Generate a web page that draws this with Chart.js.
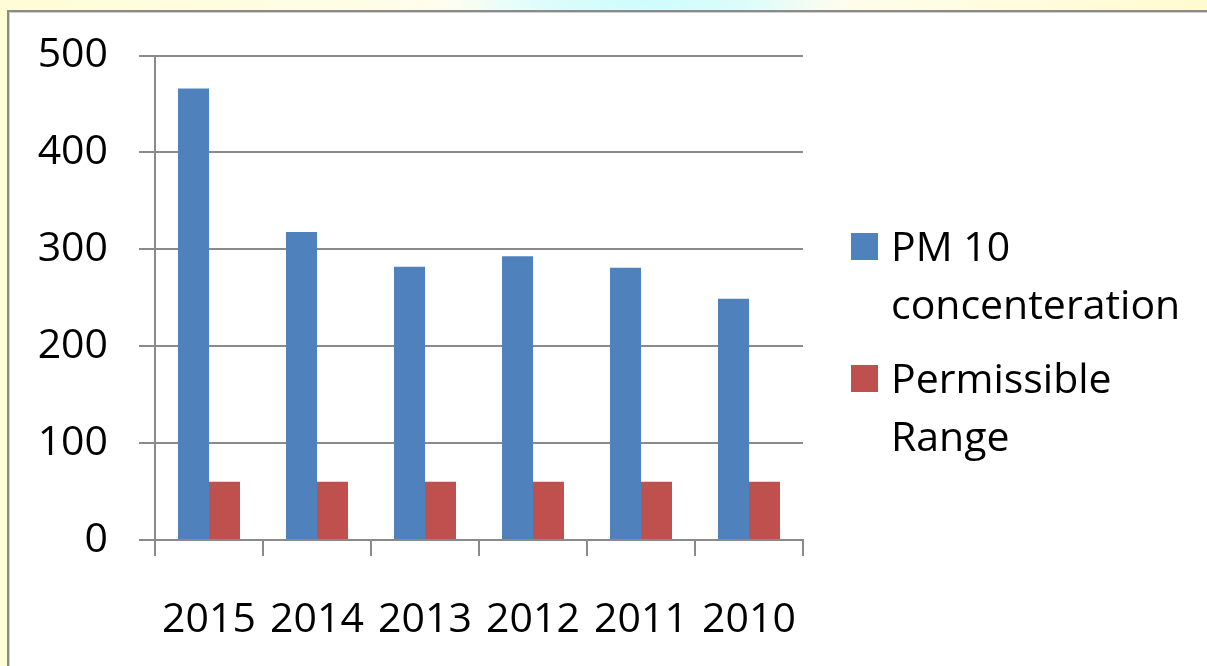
<!DOCTYPE html>
<html>
<head>
<meta charset="utf-8">
<script src="https://cdn.jsdelivr.net/npm/chart.js@4"></script>
<style>
  html, body { margin:0; padding:0; }
  body {
    width:1207px; height:666px; overflow:hidden; position:relative;
    background:
      radial-gradient(ellipse 200px 40px at 645px 0px, rgba(205,252,252,1) 0%, rgba(215,252,252,0.9) 50%, rgba(255,255,255,0) 100%),
      linear-gradient(90deg, #fefdd6 0%, #fffde6 30%, #ffffff 50%, #fffde6 75%, #fffbd0 100%);
  }
  #frame {
    position:absolute; left:7px; top:10px; right:-10px; bottom:-10px;
    background:#ffffff;
    border-left:2px solid #8a8a8a; border-top:2px solid #8a8a8a;
    box-shadow: inset 1px 1px 0 #d0d0d0;
  }
  canvas#c { position:absolute; left:0; top:0; }
  #legend { position:absolute; left:851px; top:216px; font-family:"Open Sans", sans-serif; font-size:41px; color:#000; }
  .item { position:relative; padding-left:40px; line-height:58px; }
  .item + .item { margin-top:16px; }
  .sw { position:absolute; left:0; top:17px; width:27px; height:27px; }
</style>
</head>
<body>
<div id="frame"></div>
<canvas id="c" width="1207" height="666"></canvas>
<div id="legend"></div>
<script>
const categories = ['2015', '2014', '2013', '2012', '2011', '2010'];
const pm10Values = [466, 318, 282, 293, 281, 249];
const permissibleValues = [60, 60, 60, 60, 60, 60];
const seriesNames = ['PM 10 concenteration', 'Permissible Range'];
const legendLines = [['PM 10', 'concenteration'], ['Permissible', 'Range']];
const seriesColors = ['#4f81bd', '#c0504d'];
const yMin = 0, yMax = 500, yStep = 100;

const gridColor = '#8a8a8a';
const font = { family: '"Open Sans", sans-serif', size: 41 };

new Chart(document.getElementById('c'), {
  type: 'bar',
  data: {
    labels: categories,
    datasets: [
      { label: seriesNames[0], data: pm10Values, backgroundColor: seriesColors[0], categoryPercentage: 0.574, barPercentage: 1.0 },
      { label: seriesNames[1], data: permissibleValues, backgroundColor: seriesColors[1], categoryPercentage: 0.574, barPercentage: 1.0 }
    ]
  },
  options: {
    responsive: false,
    animation: false,
    layout: { padding: { left: 0, right: 404, top: 53, bottom: 0 } },
    plugins: { legend: { display: false }, tooltip: { enabled: false } },
    scales: {
      x: {
        offset: true,
        grid: { display: true, drawOnChartArea: false, drawTicks: true, tickLength: 16, color: gridColor, lineWidth: 2, offset: true },
        border: { display: true, color: gridColor, width: 2 },
        ticks: { color: '#000', font: font, padding: 40, maxRotation: 0, autoSkip: false },
        afterFit: (s) => { s.height = 126; }
      },
      y: {
        min: yMin, max: yMax,
        grid: { color: gridColor, lineWidth: 2, tickLength: 16, drawTicks: true },
        border: { display: true, color: gridColor, width: 2 },
        ticks: { stepSize: yStep, color: '#000', font: font, padding: 31 },
        afterFit: (s) => { s.width = 155; }
      }
    }
  }
});

const legend = document.getElementById('legend');
legendLines.forEach((lines, i) => {
  const d = document.createElement('div');
  d.className = 'item';
  const sw = document.createElement('span');
  sw.className = 'sw';
  sw.style.background = seriesColors[i];
  d.appendChild(sw);
  lines.forEach((t, j) => {
    if (j) d.appendChild(document.createElement('br'));
    d.appendChild(document.createTextNode(t));
  });
  legend.appendChild(d);
});
</script>
</body>
</html>
